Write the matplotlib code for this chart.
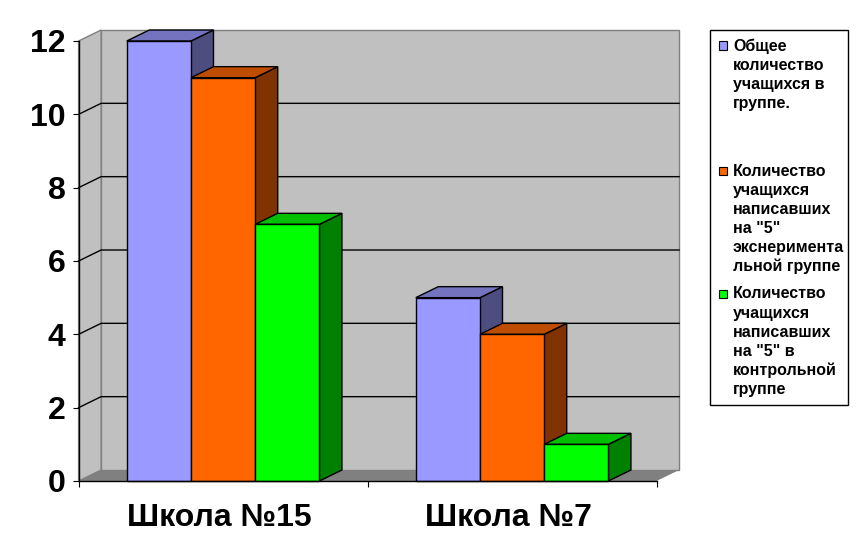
import numpy as np
import matplotlib
matplotlib.use("Agg")
import matplotlib.pyplot as plt
from matplotlib.patches import Polygon, Rectangle

plt.rcParams['font.family'] = ['Liberation Sans', 'DejaVu Sans']

categories = ["Школа №15", "Школа №7"]
total_students = [12, 5]
experiment_fives = [11, 4]
control_fives = [7, 1]
y_ticks = [0, 2, 4, 6, 8, 10, 12]

legend_labels = [
    "Общее\nколичество\nучащихся в\nгруппе.",
    "Количество\nучащихся\nнаписавших\nна \"5\"\nэкснеримента\nльной группе",
    "Количество\nучащихся\nнаписавших\nна \"5\" в\nконтрольной\nгруппе",
]
front_colors = ["#9999ff", "#ff6600", "#00ff00"]
top_colors = ["#7373bf", "#bf4d00", "#00bf00"]
side_colors = ["#4d4d80", "#803300", "#008000"]

W, H = 864, 558
fig = plt.figure(figsize=(W / 100, H / 100), dpi=100)
ax = fig.add_axes([78.6 / W, (H - 481) / H, 578 / W, 440 / H])
ax.set_xlim(0, 2)
ax.set_ylim(0, 12)
ax.patch.set_visible(False)

# fake 3d depth, in data units
dx = 22.5 / 289
dy = 11 / (440 / 12)
bar_w = 2 / 9

# walls and floor
ax.add_patch(Polygon([(dx, dy), (2 + dx, dy), (2 + dx, 12 + dy), (dx, 12 + dy)],
                     fc="#c0c0c0", ec="#808080", lw=1, clip_on=False, zorder=1))
ax.add_patch(Polygon([(0, 0), (dx, dy), (dx, 12 + dy), (0, 12)],
                     fc="#c0c0c0", ec="#808080", lw=1, clip_on=False, zorder=1))
ax.add_patch(Polygon([(0, 0), (2, 0), (2 + dx, dy), (dx, dy)],
                     fc="#808080", ec="none", clip_on=False, zorder=1.5))

# gridlines on back wall + side wall
for t in y_ticks[1:-1]:
    ax.plot([0, dx, 2 + dx], [t, t + dy, t + dy], color="black", lw=1,
            clip_on=False, zorder=2)

series = [total_students, experiment_fives, control_fives]
z = 3
for c in range(len(categories)):
    for s in range(3):
        x0 = c + 1 / 6 + s * bar_w
        x1 = x0 + bar_w
        v = series[s][c]
        ax.add_patch(Polygon([(x1, 0), (x1 + dx, dy), (x1 + dx, v + dy), (x1, v)],
                             fc=side_colors[s], ec="black", lw=1, clip_on=False, zorder=z))
        ax.add_patch(Polygon([(x0, v), (x1, v), (x1 + dx, v + dy), (x0 + dx, v + dy)],
                             fc=top_colors[s], ec="black", lw=1, clip_on=False, zorder=z))
        ax.bar(x0, v, width=bar_w, align="edge", color=front_colors[s], edgecolor="black",
               linewidth=1, clip_on=False, zorder=z + 0.5)
        z += 1

ax.spines["top"].set_visible(False)
ax.spines["right"].set_visible(False)
for sp in ["left", "bottom"]:
    ax.spines[sp].set_linewidth(1)
    ax.spines[sp].set_zorder(30)

ax.set_yticks(y_ticks)
ax.set_yticklabels(y_ticks, fontsize=23, fontweight="bold")
ax.tick_params(axis="y", length=4.5, width=0.8, pad=5)
ax.set_xticks([0, 1, 2])
ax.set_xticklabels([])
ax.tick_params(axis="x", which="major", length=4.5, width=0.8)
# labels sit a bit left of the group centre in the original
ax.set_xticks([0.487, 1.487], minor=True)
ax.set_xticklabels(categories, minor=True, fontsize=23, fontweight="bold")
ax.tick_params(axis="x", which="minor", length=0, pad=15.5)

# legend is laid out by hand, the entries wrap and have uneven gaps
fig.add_artist(Rectangle((710 / W, (H - 404.5) / H), 138 / W, 375 / H, fc="white", ec="black",
                         lw=1, transform=fig.transFigure))
legend_tops = [38.5, 163.5, 286.5]
for lab, top, col in zip(legend_labels, legend_tops, front_colors):
    fig.add_artist(Rectangle((718.5 / W, (H - top - 11) / H), 8 / W, 8 / H, fc=col, ec="black",
                             lw=0.8, transform=fig.transFigure))
    fig.text(733 / W, (H - top) / H, lab, fontsize=11.5, fontweight="bold", va="top", ha="left",
             linespacing=1.335)

fig.savefig("out.png", dpi=100, facecolor="white")
